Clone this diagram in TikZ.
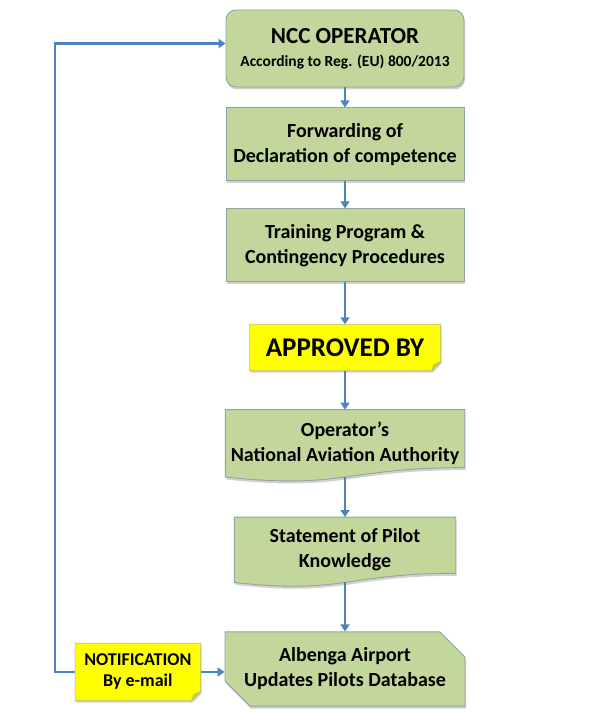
\documentclass[tikz,border=0pt]{standalone}
\usepackage{fontspec}
\setmainfont{Carlito}
\usepackage{xcolor}
\usetikzlibrary{arrows.meta,calc,positioning,backgrounds,shapes.misc,shadows}
\definecolor{boxgreen}{HTML}{C3D69B}
\definecolor{boxline}{HTML}{8FA6A0}
\definecolor{noteyellow}{HTML}{FFFF00}
\definecolor{noteline}{HTML}{BDBD73}
\definecolor{foldyellow}{HTML}{CCCC33}
\definecolor{arrblue}{HTML}{4F81BD}
\newcommand{\docshape}[1]{%
  \fill[black, opacity=0.18, transform canvas={xshift=1pt,yshift=-2.5pt}]
    (#1.north west) -- (#1.north east) -- ($(#1.north east)!0.86!(#1.south east)$)
    .. controls ($(#1.north)!0.86!(#1.south)$) and ($(#1.north)!1.187!(#1.south)$) .. (#1.south west) -- cycle;
  \filldraw[draw=boxline, fill=boxgreen, line width=0.9pt]
    (#1.north west) -- (#1.north east) -- ($(#1.north east)!0.86!(#1.south east)$)
    .. controls ($(#1.north)!0.86!(#1.south)$) and ($(#1.north)!1.187!(#1.south)$) .. (#1.south west) -- cycle;}
\newcommand{\noteshape}[1]{%
  \fill[black, opacity=0.18, transform canvas={xshift=1pt,yshift=-2pt}]
    (#1.north west) -- (#1.north east) -- ([yshift=9pt]#1.south east)
    -- ([xshift=-9pt]#1.south east) -- (#1.south west) -- cycle;
  \filldraw[draw=noteline, fill=noteyellow, line width=0.6pt]
    (#1.north west) -- (#1.north east) -- ([yshift=9pt]#1.south east)
    -- ([xshift=-9pt]#1.south east) -- (#1.south west) -- cycle;
  \filldraw[draw=noteline, fill=foldyellow, line width=0.5pt]
    ([yshift=9pt]#1.south east) -- ([xshift=-9pt]#1.south east)
    -- ([xshift=-7pt,yshift=6pt]#1.south east) -- cycle;}

\begin{document}
\begin{tikzpicture}[
  x=1pt, y=-1pt,
  gbox/.style  = {draw=boxline, fill=boxgreen, line width=0.9pt,
                  align=center, inner sep=2pt,
                  font=\bfseries\fontsize{20}{25}\selectfont,
                  minimum width=238pt, minimum height=73pt,
                  drop shadow={shadow xshift=1pt, shadow yshift=-2.5pt,
                               fill=black, opacity=0.18}},
  docbox/.style = {align=center, inner sep=2pt,
                  font=\bfseries\fontsize{20}{25}\selectfont},
  notebox/.style = {align=center, inner sep=2pt},
  arr/.style   = {-{Triangle[length=7pt,width=9pt]},
                  line width=2.6pt, draw=arrblue},
]
\useasboundingbox (0,0) rectangle (600,714);
\node[gbox, rounded corners=10pt, minimum height=77pt] (ncc) at (345,48.5)
    {{\fontsize{23}{26}\selectfont NCC OPERATOR}\\[-2pt]{\fontsize{15.5}{18}\selectfont According to Reg. (EU) 800/2013}};
\node[gbox, below=20pt of ncc] (fwd)
    {Forwarding of\\Declaration of competence};
\node[gbox, below=27pt of fwd] (trn)
    {Training Program \&\\Contingency Procedures};
\node[notebox, minimum width=191pt, minimum height=46pt,
      font=\bfseries\fontsize{27}{30}\selectfont, below=42pt of trn] (appr)
    {APPROVED BY};
\node[docbox, minimum width=239pt, minimum height=67pt, below=39pt of appr] (naa)
    {Operator’s\\National Aviation Authority};
\node[docbox, minimum width=221pt, minimum height=65pt, below=40pt of naa] (stm)
    {Statement of Pilot\\Knowledge};
\node[gbox, chamfered rectangle, chamfered rectangle corners={north east,south west},
      chamfered rectangle xsep=11pt, chamfered rectangle ysep=14pt,
      minimum width=240pt, minimum height=72pt, below=49pt of stm] (alb)
    {Albenga Airport\\Updates Pilots Database};
\node[notebox, minimum width=125pt, minimum height=57pt,
      font=\bfseries\fontsize{18}{21}\selectfont,
      left=24pt of alb, yshift=-3pt] (note)
    {NOTIFICATION\\By e-mail};
\begin{scope}[on background layer]
\noteshape{appr}
\noteshape{note}
\docshape{naa}
\docshape{stm}
\end{scope}
\draw[arr] (ncc.south) -- (fwd.north);
\draw[arr] (fwd.south) -- (trn.north);
\draw[arr] (trn.south) -- (appr.north);
\draw[arr] (appr.south) -- (naa.north);
\draw[arr] (naa.south) -- (stm.north);
\draw[arr] (stm.south) -- (alb.north);
\draw[arr] (note.east) -- (note.east -| alb.west);
\coordinate (back) at (55,0);
\coordinate (in) at ([yshift=5pt]ncc.west);
\draw[arr] (note.west) -| (back |- in) -- (in);
\end{tikzpicture}
\end{document}
